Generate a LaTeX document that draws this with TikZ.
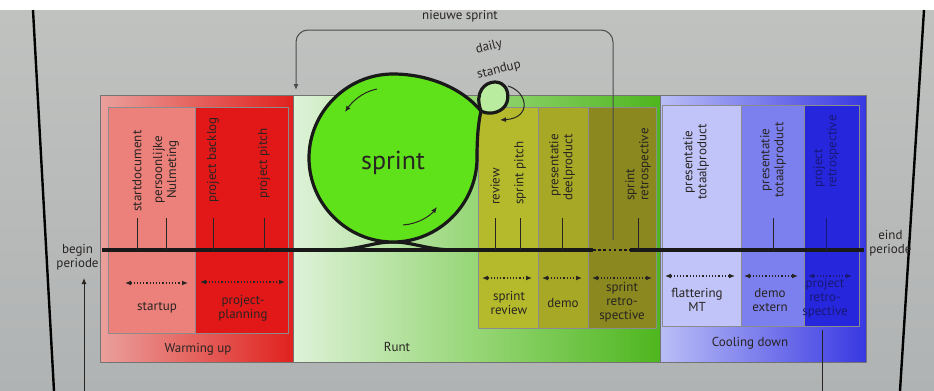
\documentclass[tikz,border=0pt]{standalone}
\usepackage{fontspec}
\setmainfont{PT Sans}
\usetikzlibrary{positioning, arrows.meta}

\definecolor{screentop}{RGB}{192,194,192}
\definecolor{screenbot}{RGB}{176,179,179}
\definecolor{warmlight}{RGB}{234,160,156}
\definecolor{warmred}{RGB}{224,34,30}
\definecolor{startupred}{RGB}{236,128,122}
\definecolor{planred}{RGB}{226,24,24}
\definecolor{runtpale}{RGB}{222,242,216}
\definecolor{runtmid}{RGB}{150,214,118}
\definecolor{runtgreen}{RGB}{78,182,30}
\definecolor{sprintgreen}{RGB}{96,226,26}
\definecolor{standupgreen}{RGB}{186,236,160}
\definecolor{olivea}{RGB}{180,186,44}
\definecolor{oliveb}{RGB}{166,168,38}
\definecolor{olivec}{RGB}{138,136,30}
\definecolor{coollight}{RGB}{186,190,246}
\definecolor{coolblue}{RGB}{56,56,226}
\definecolor{flatblue}{RGB}{192,196,248}
\definecolor{demoblue}{RGB}{124,128,238}
\definecolor{retroblue}{RGB}{38,38,220}
\definecolor{ink}{RGB}{40,36,34}
\definecolor{retroink}{RGB}{24,24,120}

\begin{document}
\begin{tikzpicture}[x=0.5pt, y=-0.5pt, line join=round,
    lbl/.style={font=\fontsize{6.5}{7}\selectfont, text=ink, align=center, inner sep=1pt},
    vlbl/.style={lbl, rotate=90, anchor=west},
    fase/.style={draw=black!55, line width=0.5pt},
    vak/.style={draw=black!45, line width=0.4pt},
    tick/.style={draw=ink, line width=0.5pt},
    duur/.style={draw=ink, densely dotted, line width=0.6pt,
      {Latex[length=3pt,width=2.5pt]}-{Latex[length=3pt,width=2.5pt]}},
    lus/.style={draw=black!90, line width=1.6pt},
    pijl/.style={draw=ink, line width=0.5pt, -{Latex[length=3pt,width=2.5pt]}}]
  \useasboundingbox (0,0) rectangle (934,391);
  \shade[top color=screentop, bottom color=screenbot] (0,10) rectangle (934,391);
  \draw[line width=1.2pt] (33,10) -- (54,391);
  \draw[line width=1.2pt] (924,10) -- (900,391);

  % fases
  \shade[fase, left color=warmlight, right color=warmred] (100,95) rectangle (293,362);
  \shade[fase, left color=runtpale, right color=runtgreen, middle color=runtmid] (293,95) rectangle (660,362);
  \shade[fase, left color=coollight, right color=coolblue] (660,95) rectangle (866,362);

  % vakken
  \path[vak, fill=startupred] (108,107) rectangle (195,333);
  \path[vak, fill=planred] (195,107) rectangle (288,333);
  \path[vak, fill=olivea] (478,107) rectangle (538,328);
  \path[vak, fill=oliveb] (538,107) rectangle (588,328);
  \path[vak, fill=olivec] (588,107) rectangle (656,328);
  \path[vak, fill=flatblue] (662,105) rectangle (741,326);
  \path[vak, fill=demoblue] (741,105) rectangle (804,326);
  \path[vak, fill=retroblue] (804,105) rectangle (859,326);

  % tijdlijn
  \coordinate (tl-a) at (102,250);
  \coordinate (tl-b) at (593,250);
  \coordinate (tl-c) at (630,250);
  \coordinate (tl-d) at (864,250);
  \coordinate (tk) at (0,218);
  \draw[lus] (tl-a) -- (tl-b);
  \draw[lus, line width=1.3pt, dash pattern=on 1.3pt off 1.3pt] (tl-b) -- (tl-c);
  \draw[lus] (tl-c) -- (tl-d);
  \node[lbl, anchor=east] (begin) at (101,257) {begin\\periode};
  \node[lbl, anchor=west] (eind) at (867,243) {eind\\periode};

  % nieuwe sprint
  \node[lbl] (nieuwe) at (460,16) {nieuwe sprint};
  \coordinate (ns-a) at (613,240);
  \coordinate (ns-b) at (296,90);
  \coordinate (ns-top) at (455,30);
  \draw[pijl, draw=black!70, rounded corners=6] (ns-a) -- (ns-a |- ns-top) -- (ns-b |- ns-top) -- (ns-b);

  % sprint lus
  \draw[lus] (330,250) .. controls (360,250) and (372,242) .. (393,242)
    .. controls (414,242) and (426,250) .. (456,250);
  \path[lus, fill=sprintgreen] (481,111) .. controls (462,88) and (428,74) .. (393,74)
    .. controls (347,74) and (309,112) .. (309,158)
    .. controls (309,204) and (347,242) .. (393,242)
    .. controls (439,242) and (477,204) .. (477,158)
    .. controls (477,140) and (478,124) .. (481,111) -- cycle;
  \path[lus, fill=standupgreen] (481,111) .. controls (474,92) and (485,82) .. (495,82)
    .. controls (505,82) and (510,92) .. (507,102)
    .. controls (504,112) and (490,116) .. (481,111);
  \node[font=\fontsize{13}{14}\selectfont, text=ink] (sprint) at (393,163) {sprint};
  \node[lbl, rotate=14, inner sep=0pt] (daily) at (489,47) {daily};
  \node[lbl, rotate=14, inner sep=0pt] (standup) at (499,70) {standup};
  \draw[pijl] (377,89) .. controls (362,92) and (352,102) .. (345,112);
  \draw[pijl] (403,225) .. controls (418,224) and (430,216) .. (437,207);
  \draw[pijl] (508,86) .. controls (528,92) and (532,118) .. (500,120);

  % momenten
  \node[vlbl, align=left] (sd) at (137,214) {startdocument};
  \node[vlbl] (pn) at (166,206) {persoonlijke\\Nulmeting};
  \node[vlbl] (pb) at (213,205) {project backlog};
  \node[vlbl] (pp) at (264,201) {project pitch};
  \node[vlbl] (rv) at (495,207) {review};
  \node[vlbl] (spp) at (520,207) {sprint pitch};
  \node[vlbl, align=right] (pd) at (562,203) {presentatie\\deelproduct};
  \node[vlbl, align=left] (sr) at (638,203) {sprint\\retrospective};
  \node[vlbl] (pt1) at (696,202) {presentatie\\totaalproduct};
  \node[vlbl] (pt2) at (773,200) {presentatie\\totaalproduct};
  \node[vlbl, align=left, text=retroink] (pr) at (826,190) {project\\retrospective};
  \draw[tick] (sd.west |- tk) -- (sd.west |- tl-a);
  \draw[tick] (pn.west |- tk) -- (pn.west |- tl-a);
  \draw[tick] (pb.west |- tk) -- (pb.west |- tl-a);
  \draw[tick] (pp.west |- tk) -- (pp.west |- tl-a);
  \draw[tick] (rv.west |- tk) -- (rv.west |- tl-a);
  \draw[tick] (spp.west |- tk) -- (spp.west |- tl-a);
  \draw[tick] (pd.west |- tk) -- (pd.west |- tl-a);
  \draw[tick] (sr.west |- tk) -- (sr.west |- tl-a);
  \draw[tick] (pt2.west |- tk) -- (pt2.west |- tl-a);
  \draw[tick, draw=retroink] (pr.west |- tk) -- (pr.west |- tl-a);

  % activiteiten
  \draw[duur] (125,283) -- (188,283);
  \draw[duur] (200,282) -- (285,282);
  \draw[duur] (482,278) -- (532,278);
  \draw[duur] (542,278) -- (582,278);
  \draw[duur] (592,278) -- (652,278);
  \draw[duur] (665,276) -- (735,276);
  \draw[duur] (744,276) -- (798,276);
  \draw[duur, draw=retroink] (808,276) -- (852,276);
  \node[lbl] (startup) at (157,308) {startup};
  \node[lbl] (planning) at (243,308) {project-\\planning};
  \node[lbl] (review) at (509,303) {sprint\\review};
  \node[lbl] (demo) at (563,303) {demo};
  \node[lbl] (retro) at (622,302) {sprint\\retro-\\spective};
  \node[lbl] (flat) at (697,300) {flattering\\MT};
  \node[lbl] (extern) at (770,300) {demo\\extern};
  \node[lbl, text=retroink] (projretro) at (825,298) {project\\retro-\\spective};

  % fasenamen
  \node[lbl] (warm) at (198,349) {Warming up};
  \node[lbl] (runt) at (397,347) {Runt};
  \node[lbl] (cool) at (750,343) {Cooling down};
  \coordinate (onder) at (84,391);
  \draw[pijl] (onder) -- ++(0,-113);
  \draw[tick] (822,330) -- (822,391);
\end{tikzpicture}
\end{document}
